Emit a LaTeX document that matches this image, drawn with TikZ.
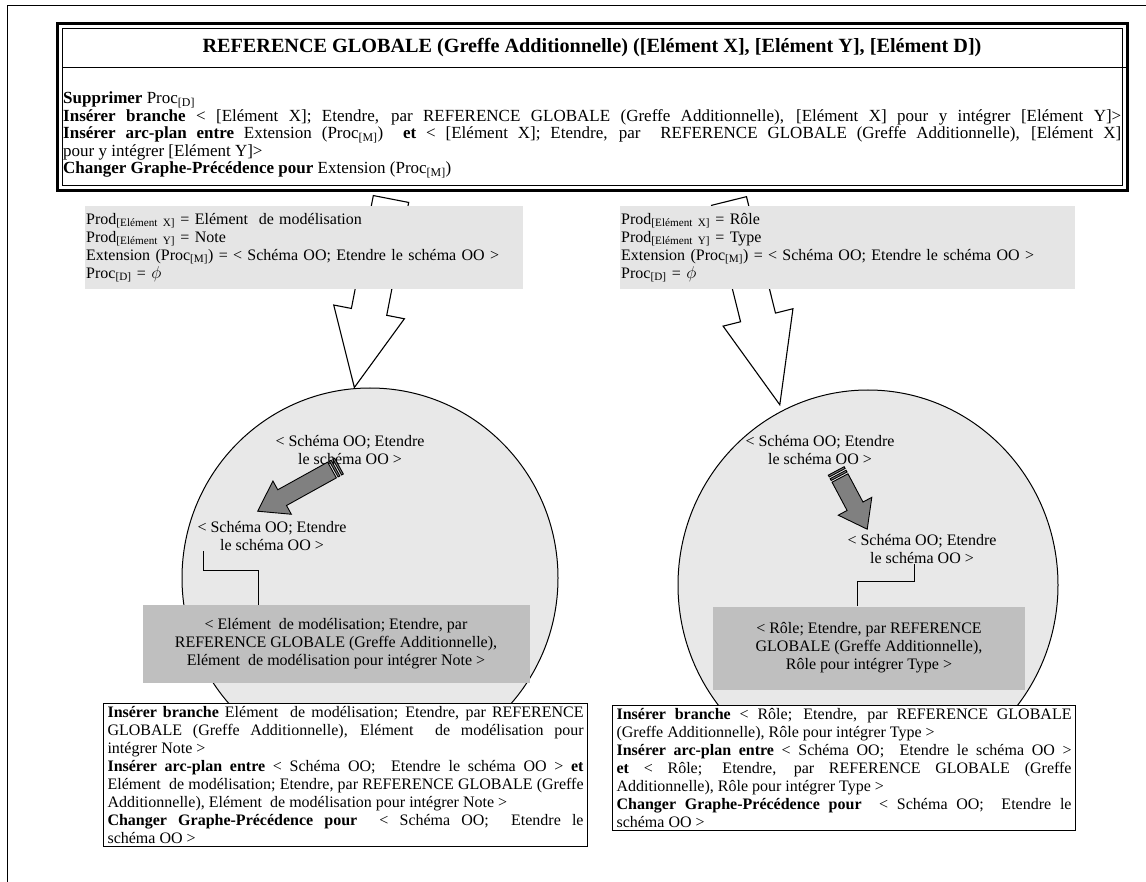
\documentclass[tikz,border=0pt]{standalone}
\usepackage{fontspec}
\setmainfont{Liberation Serif}
\usetikzlibrary{positioning, calc, shapes.geometric}

\newcommand{\indice}[1]{\textsubscript{#1}}

\tikzset{
  texte/.style={font=\fontsize{16}{18}\selectfont, inner sep=0pt},
  cadre/.style={draw, line width=1.1pt, fill=white, align=justify, inner xsep=4pt, inner ysep=3pt, anchor=north west},
  prodbox/.style={fill=black!10, align=left, inner xsep=1pt, inner ysep=4pt, anchor=north west},
  resultat/.style={fill=black!25, align=center, minimum height=78pt},
  cercle/.style={draw, line width=1pt, fill=black!9, ellipse},
  fleche/.style={draw, line width=1.1pt, fill=white, line join=miter},
  petitefleche/.style={draw, line width=0.9pt, fill=black!50},
  lien/.style={draw, line width=1pt},
}

\begin{document}
\begin{tikzpicture}[x=1pt, y=-1pt, every node/.style={texte}]
    \useasboundingbox (0,0) rectangle (1146,882);
    \clip (0,0) rectangle (1146,882);
    % cadre de la page
    \draw[line width=0.8pt] (7,5) rectangle (1160,900);

    % ellipses
    \node[cercle, minimum width=376, minimum height=380] (cercleG) at (370,578) {};
    \node[cercle, minimum width=380, minimum height=390] (cercleD) at (868,585) {};

    % grandes fleches
    \begin{scope}[shift={(391,199)}, rotate=-11]
        \draw[fleche] (-18,0) -- (-18,115) -- (-36,115) -- (0,192) -- (36,115) -- (18,115) -- (18,0) -- cycle;
    \end{scope}
    \begin{scope}[shift={(729,201)}, rotate=14]
        \draw[fleche] (-18,0) -- (-18,120) -- (-36,120) -- (0,210) -- (36,120) -- (18,120) -- (18,0) -- cycle;
    \end{scope}

    % productions
    \node[prodbox, minimum width=438, minimum height=83, text width=436] (prodG) at (85,206)
        {Prod\indice{[Elément X]} = Elément~ de modélisation\\
         Prod\indice{[Elément Y]} = Note\\
         Extension (Proc\indice{[M]}) = < Schéma OO; Etendre le schéma OO >\\
         Proc\indice{[D]} = $\phi$};
    \node[prodbox, minimum width=455, minimum height=83, text width=453] (prodD) at (620,206)
        {Prod\indice{[Elément X]} = Rôle\\
         Prod\indice{[Elément Y]} = Type\\
         Extension (Proc\indice{[M]}) = < Schéma OO; Etendre le schéma OO >\\
         Proc\indice{[D]} = $\phi$};

    % reference globale
    \fill[white] (57,24) rectangle (1127,191);
    \draw[line width=3pt] (57,24) rectangle (1127,191);
    \draw[line width=1pt] (62,29) rectangle (1122,186);
    \draw[line width=1pt] (62,68) -- (1128,68);
    \node[font=\fontsize{20.2}{24}\selectfont\bfseries] (titre) at (592,48)
        {REFERENCE GLOBALE (Greffe Additionnelle) ([Elément X], [Elément Y], [Elément D])};
    \node[anchor=north west, text width=1058, align=justify, font=\fontsize{17}{17.5}\selectfont] (regles) at (63,92)
        {\textbf{Supprimer} Proc\indice{[D]}\\
         \textbf{Insérer branche} < [Elément X]; Etendre, par REFERENCE GLOBALE (Greffe Additionnelle), [Elément X] pour y intégrer [Elément Y]>\linebreak
         \textbf{Insérer arc-plan entre} Extension (Proc\indice{[M]})~ \textbf{et} < [Elément X]; Etendre, par~ REFERENCE GLOBALE (Greffe Additionnelle), [Elément X]\linebreak
         pour y intégrer [Elément Y]>\\
         \textbf{Changer Graphe-Précédence pour} Extension (Proc\indice{[M]})};

    % contenu gauche
    \node[align=center] (schemaG1) at (350,450) {< Schéma OO; Etendre\\le schéma OO >};
    \node[align=center] (schemaG2) at (272,536) {< Schéma OO; Etendre\\le schéma OO >};
    \node[resultat, minimum width=387] (resG) at (336,644)
        {< Elément~ de modélisation; Etendre, par\\
         REFERENCE GLOBALE (Greffe Additionnelle),\\
         Elément~ de modélisation pour intégrer Note >};
    \begin{scope}[shift={(332,470)}, rotate=209]
        \draw[petitefleche] (0,-9) -- (57,-9) -- (57,-19) -- (85,0) -- (57,19) -- (57,9) -- (0,9) -- cycle;
        \draw[petitefleche] (-8,-9) rectangle (-6,9);
        \draw[petitefleche] (-4,-9) rectangle (-2,9);
    \end{scope}
    \draw[lien] ([xshift=6pt]schemaG2.south west) -- ++(0,20) -| ([xshift=-78pt]resG.north);

    % contenu droit
    \node[align=center] (schemaD1) at (820,450) {< Schéma OO; Etendre\\le schéma OO >};
    \node[align=center] (schemaD2) at (922,549) {< Schéma OO; Etendre\\le schéma OO >};
    \node[resultat, minimum width=312, minimum height=83] (resD) at (869,648)
        {< Rôle; Etendre, par REFERENCE\\
         GLOBALE (Greffe Additionnelle),\\
         Rôle pour intégrer Type >};
    \begin{scope}[shift={(840,478)}, rotate=-62]
        \draw[petitefleche] (0,-9) -- (32,-9) -- (32,-19) -- (58,0) -- (32,19) -- (32,9) -- (0,9) -- cycle;
        \draw[petitefleche] (-8,-9) rectangle (-6,9);
        \draw[petitefleche] (-4,-9) rectangle (-2,9);
    \end{scope}
    \draw[lien] ([xshift=-8pt]schemaD2.south) -- ++(0,18) -| ([xshift=-12pt]resD.north);

    % actions
    \node[cadre, text width=476] (actG) at (103,703)
        {\textbf{Insérer branche} Elément~ de modélisation; Etendre, par REFERENCE\linebreak
         GLOBALE (Greffe Additionnelle), Elément~ de modélisation pour\linebreak
         intégrer Note >\\
         \textbf{Insérer arc-plan entre} < Schéma OO;~ Etendre le schéma OO > \textbf{et}\linebreak
         Elément~ de modélisation; Etendre, par REFERENCE GLOBALE (Greffe\linebreak
         Additionnelle), Elément~ de modélisation pour intégrer Note >\\
         \textbf{Changer Graphe-Précédence pour}~ < Schéma OO;~ Etendre le\linebreak
         schéma OO >};
    \node[cadre, text width=455] (actD) at (612,705)
        {\textbf{Insérer branche} < Rôle; Etendre, par REFERENCE GLOBALE\linebreak
         (Greffe Additionnelle), Rôle pour intégrer Type >\\
         \textbf{Insérer arc-plan entre} < Schéma OO;~ Etendre le schéma OO >\linebreak
         \textbf{et} < Rôle; Etendre, par REFERENCE GLOBALE (Greffe\linebreak
         Additionnelle), Rôle pour intégrer Type >\\
         \textbf{Changer Graphe-Précédence pour}~ < Schéma OO;~ Etendre le\linebreak
         schéma OO >};
\end{tikzpicture}
\end{document}
